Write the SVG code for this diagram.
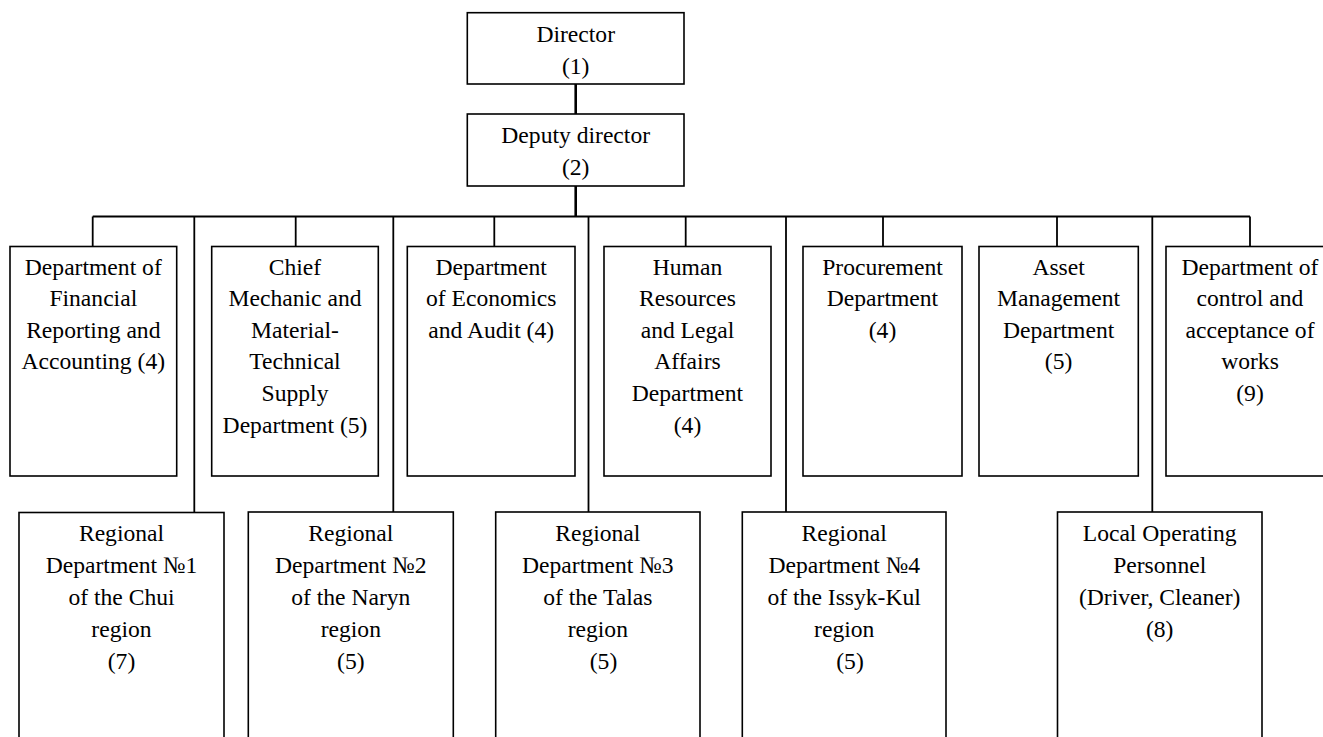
<svg xmlns="http://www.w3.org/2000/svg" width="1323" height="737" viewBox="0 0 1323 737">
  <style>
    .box { fill: #ffffff; stroke: #000000; stroke-width: 1.6; }
    .lbl { font-size: 23.6px; fill: #000000; text-anchor: middle; }
    .wire { fill: none; stroke: #000000; stroke-width: 1.8; }
    .trunk { fill: none; stroke: #000000; stroke-width: 2.6; }
  </style>
  <rect x="0" y="0" width="1323" height="737" fill="#ffffff"/>

  <!-- connectors -->
  <g id="connectors">
    <line class="trunk" x1="575.7" y1="84" x2="575.7" y2="114"/>
    <line class="trunk" x1="575.7" y1="186" x2="575.7" y2="216.5"/>
    <line class="wire" x1="92.7" y1="216.5" x2="1250" y2="216.5"/>
    <!-- drops to the first row of departments -->
    <line class="wire" x1="92.7" y1="216.5" x2="92.7" y2="246.5"/>
    <line class="wire" x1="295.7" y1="216.5" x2="295.7" y2="246.5"/>
    <line class="wire" x1="494.3" y1="216.5" x2="494.3" y2="246.5"/>
    <line class="wire" x1="685.7" y1="216.5" x2="685.7" y2="246.5"/>
    <line class="wire" x1="883" y1="216.5" x2="883" y2="246.5"/>
    <line class="wire" x1="1057" y1="216.5" x2="1057" y2="246.5"/>
    <line class="wire" x1="1250" y1="216.5" x2="1250" y2="246.5"/>
    <!-- long drops to the regional row -->
    <line class="wire" x1="194.3" y1="216.5" x2="194.3" y2="512"/>
    <line class="wire" x1="393.3" y1="216.5" x2="393.3" y2="512"/>
    <line class="wire" x1="588.5" y1="216.5" x2="588.5" y2="512"/>
    <line class="wire" x1="786" y1="216.5" x2="786" y2="512"/>
    <line class="wire" x1="1152.3" y1="216.5" x2="1152.3" y2="512"/>
  </g>

  <g font-family="Liberation Serif, Times New Roman, serif">
  <!-- top management -->
  <g id="director">
    <rect class="box" x="467.3" y="12.7" width="216.7" height="71.3"/>
    <text class="lbl" x="575.7" y="41.7">Director</text>
    <text class="lbl" x="575.7" y="74">(1)</text>
  </g>
  <g id="deputy-director">
    <rect class="box" x="467.3" y="114" width="216.7" height="72"/>
    <text class="lbl" x="575.7" y="142.7">Deputy director</text>
    <text class="lbl" x="575.7" y="175">(2)</text>
  </g>

  <!-- first row of departments -->
  <g id="dept-financial">
    <rect class="box" x="10" y="246.5" width="166.7" height="229.5"/>
    <text class="lbl" x="93.3" y="274.5">Department of</text>
    <text class="lbl" x="93.3" y="306.1">Financial</text>
    <text class="lbl" x="93.3" y="337.7">Reporting and</text>
    <text class="lbl" x="93.3" y="369.3">Accounting (4)</text>
  </g>
  <g id="dept-mechanic">
    <rect class="box" x="211.7" y="246.5" width="166.6" height="229.5"/>
    <text class="lbl" x="295" y="274.5">Chief</text>
    <text class="lbl" x="295" y="306.1">Mechanic and</text>
    <text class="lbl" x="295" y="337.7">Material-</text>
    <text class="lbl" x="295" y="369.3">Technical</text>
    <text class="lbl" x="295" y="400.9">Supply</text>
    <text class="lbl" x="295" y="432.5">Department (5)</text>
  </g>
  <g id="dept-economics">
    <rect class="box" x="407.3" y="246.5" width="167.7" height="229.5"/>
    <text class="lbl" x="491.2" y="274.5">Department</text>
    <text class="lbl" x="491.2" y="306.1">of Economics</text>
    <text class="lbl" x="491.2" y="337.7">and Audit (4)</text>
  </g>
  <g id="dept-hr-legal">
    <rect class="box" x="604" y="246.5" width="167" height="229.5"/>
    <text class="lbl" x="687.5" y="274.5">Human</text>
    <text class="lbl" x="687.5" y="306.1">Resources</text>
    <text class="lbl" x="687.5" y="337.7">and Legal</text>
    <text class="lbl" x="687.5" y="369.3">Affairs</text>
    <text class="lbl" x="687.5" y="400.9">Department</text>
    <text class="lbl" x="687.5" y="432.5">(4)</text>
  </g>
  <g id="dept-procurement">
    <rect class="box" x="803" y="246.5" width="159" height="229.5"/>
    <text class="lbl" x="882.5" y="274.5">Procurement</text>
    <text class="lbl" x="882.5" y="306.1">Department</text>
    <text class="lbl" x="882.5" y="337.7">(4)</text>
  </g>
  <g id="dept-assets">
    <rect class="box" x="979" y="246.5" width="159.3" height="229.5"/>
    <text class="lbl" x="1058.6" y="274.5">Asset</text>
    <text class="lbl" x="1058.6" y="306.1">Management</text>
    <text class="lbl" x="1058.6" y="337.7">Department</text>
    <text class="lbl" x="1058.6" y="369.3">(5)</text>
  </g>
  <g id="dept-control">
    <rect class="box" x="1166" y="246.5" width="168" height="229.5"/>
    <text class="lbl" x="1250" y="274.5">Department of</text>
    <text class="lbl" x="1250" y="306.1">control and</text>
    <text class="lbl" x="1250" y="337.7">acceptance of</text>
    <text class="lbl" x="1250" y="369.3">works</text>
    <text class="lbl" x="1250" y="400.9">(9)</text>
  </g>

  <!-- regional row (boxes run past the lower edge) -->
  <g id="regional-1">
    <rect class="box" x="19" y="512.5" width="205" height="240"/>
    <text class="lbl" x="121.5" y="540.5">Regional</text>
    <text class="lbl" x="121.5" y="572.5">Department №1</text>
    <text class="lbl" x="121.5" y="604.5">of the Chui</text>
    <text class="lbl" x="121.5" y="636.5">region</text>
    <text class="lbl" x="121.5" y="668.5">(7)</text>
  </g>
  <g id="regional-2">
    <rect class="box" x="248.3" y="512" width="205" height="240"/>
    <text class="lbl" x="350.8" y="540.5">Regional</text>
    <text class="lbl" x="350.8" y="572.5">Department №2</text>
    <text class="lbl" x="350.8" y="604.5">of the Naryn</text>
    <text class="lbl" x="350.8" y="636.5">region</text>
    <text class="lbl" x="350.8" y="668.5">(5)</text>
  </g>
  <g id="regional-3">
    <rect class="box" x="495.7" y="512" width="204.3" height="240"/>
    <text class="lbl" x="597.8" y="540.5">Regional</text>
    <text class="lbl" x="597.8" y="572.5">Department №3</text>
    <text class="lbl" x="597.8" y="604.5">of the Talas</text>
    <text class="lbl" x="597.8" y="636.5">region</text>
    <text class="lbl" x="603.5" y="668.5">(5)</text>
  </g>
  <g id="regional-4">
    <rect class="box" x="742.3" y="512" width="203.7" height="240"/>
    <text class="lbl" x="844.2" y="540.5">Regional</text>
    <text class="lbl" x="844.2" y="572.5">Department №4</text>
    <text class="lbl" x="844.2" y="604.5">of the Issyk-Kul</text>
    <text class="lbl" x="844.2" y="636.5">region</text>
    <text class="lbl" x="850" y="668.5">(5)</text>
  </g>
  <g id="local-personnel">
    <rect class="box" x="1057.5" y="512" width="204.5" height="240"/>
    <text class="lbl" x="1159.7" y="540.5">Local Operating</text>
    <text class="lbl" x="1159.7" y="572.5">Personnel</text>
    <text class="lbl" x="1159.7" y="604.5">(Driver, Cleaner)</text>
    <text class="lbl" x="1159.7" y="636.5">(8)</text>
  </g>
  </g>
</svg>
